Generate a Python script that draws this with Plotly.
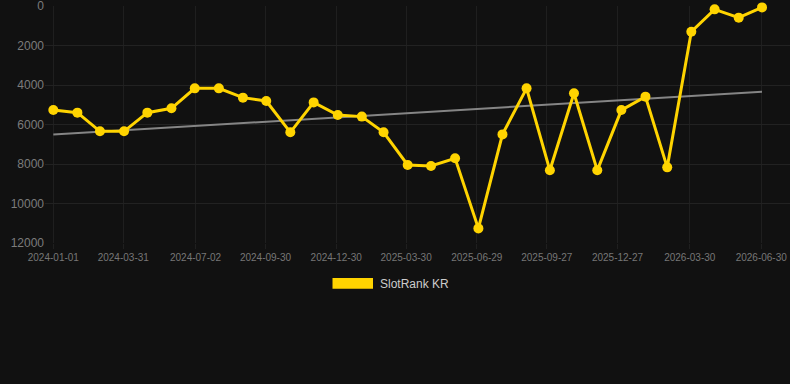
import plotly.graph_objects as go

dates = ["2024-01-01", "2024-02-01", "2024-03-01", "2024-04-01", "2024-05-01", "2024-06-01",
         "2024-07-01", "2024-08-01", "2024-09-01", "2024-10-01", "2024-11-01", "2024-12-01",
         "2025-01-01", "2025-02-01", "2025-03-01", "2025-04-01", "2025-05-01", "2025-06-01",
         "2025-07-01", "2025-08-01", "2025-09-01", "2025-10-01", "2025-11-01", "2025-12-01",
         "2026-01-01", "2026-02-01", "2026-03-01", "2026-04-01", "2026-05-01", "2026-06-01",
         "2026-07-01"]
ranks = [5270, 5400, 6345, 6345, 5400, 5180,
         4170, 4170, 4640, 4810, 6395, 4880,
         5520, 5600, 6395, 8050, 8100, 7710,
         11260, 6500, 4170, 8320, 4420, 8320,
         5270, 4590, 8170, 1300, 170, 590,
         70]
trend_dates = ["2024-01-01", "2026-07-01"]
trend_values = [6510, 4340]
tick_dates = ["2024-01-01", "2024-03-31", "2024-07-02", "2024-09-30", "2024-12-30",
              "2025-03-30", "2025-06-29", "2025-09-27", "2025-12-27", "2026-03-30",
              "2026-06-30"]
y_ticks = [0, 2000, 4000, 6000, 8000, 10000, 12000]
y_tick_text = ["0", "2000", "4000", "6000", "8000", "10000", "12000"]
series_name = "SlotRank KR"

YELLOW = "#FFD400"
W, H = 790, 384
ML, MR, MT, MB = 45, 0, 6, 141
PW, PH = W - ML - MR, H - MT - MB


def px_x(p):
    return (p - ML) / PW


def px_y(p):
    return (H - MB - p) / PH


fig = go.Figure()
fig.add_trace(go.Scatter(x=trend_dates, y=trend_values, mode="lines",
                         line=dict(color="#858585", width=2), showlegend=False,
                         hoverinfo="skip"))
fig.add_trace(go.Scatter(x=dates, y=ranks, mode="lines+markers", name=series_name,
                         line=dict(color=YELLOW, width=3),
                         marker=dict(color=YELLOW, size=10),
                         showlegend=False, cliponaxis=False))

# legend swatch + label (drawn manually to match the wide rectangular swatch)
fig.add_shape(type="rect", xref="paper", yref="paper",
              x0=px_x(332.5), x1=px_x(373), y0=px_y(288.7), y1=px_y(278),
              fillcolor=YELLOW, line=dict(width=0))
fig.add_annotation(xref="paper", yref="paper", x=px_x(378), y=px_y(284),
                   xanchor="left", yanchor="middle", showarrow=False,
                   text=series_name, font=dict(size=12, color="#cccccc"))

fig.update_layout(
    width=W, height=H,
    margin=dict(l=ML, r=MR, t=MT, b=MB),
    paper_bgcolor="#111111", plot_bgcolor="#111111",
    font=dict(family="Arial, Liberation Sans, sans-serif", color="#7c7c7c"),
    xaxis=dict(type="date", range=["2023-12-21 07:00", "2026-08-06"],
               tickvals=tick_dates, ticktext=tick_dates,
               tickfont=dict(size=10, color="#777777"),
               showgrid=True, gridcolor="#1f1f1f", gridwidth=1,
               zeroline=False, showline=False, ticklabeloverflow="allow",
               ticks="outside", ticklen=5, tickcolor="#1f1f1f"),
    yaxis=dict(range=[12000, 0], tickvals=y_ticks, ticktext=y_tick_text,
               tickfont=dict(size=12, color="#7c7c7c"),
               showgrid=True, gridcolor="#222222", gridwidth=1,
               zeroline=False, showline=False, ticks="",
               ticklabeloverflow="allow"),
    showlegend=False,
)

fig.write_html("out.html")
